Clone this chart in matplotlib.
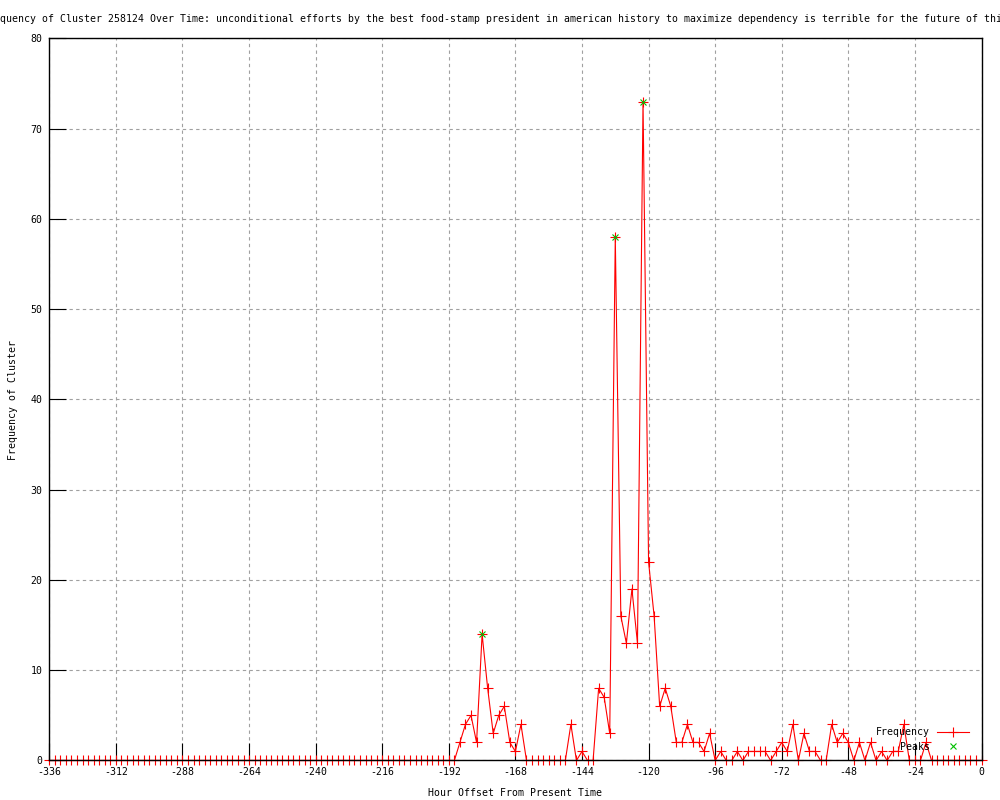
import matplotlib
matplotlib.use("Agg")
import matplotlib.pyplot as plt
import numpy as np

plt.rcParams['font.family'] = ['DejaVu Sans Mono']
plt.rcParams['axes.unicode_minus'] = False

# hour offsets, one sample every two hours
hours = list(range(-336, 1, 2))

# frequency of the cluster in each 2-hour bin
freq = [
    0, 0, 0, 0, 0, 0, 0, 0, 0, 0, 0, 0, 0, 0, 0, 0, 0, 0, 0, 0,      # -336 .. -298
    0, 0, 0, 0, 0, 0, 0, 0, 0, 0, 0, 0, 0, 0, 0, 0, 0, 0, 0, 0,      # -296 .. -258
    0, 0, 0, 0, 0, 0, 0, 0, 0, 0, 0, 0, 0, 0, 0, 0, 0, 0, 0, 0,      # -256 .. -218
    0, 0, 0, 0, 0, 0, 0, 0, 0, 0, 0, 0, 0, 0,                        # -216 .. -190
    2, 4, 5, 2, 14, 8, 3, 5, 6, 2, 1, 4,                             # -188 .. -166
    0, 0, 0, 0, 0, 0, 0, 0, 4, 0, 1, 0, 0,                           # -164 .. -140
    8, 7, 3, 58, 16, 13, 19, 13, 73, 22, 16, 6, 8, 6,                # -138 .. -112
    2, 2, 4, 2, 2, 1, 3, 0, 1, 0, 0, 1, 0, 1, 1, 1, 1, 0, 1,         # -110 .. -74
    2, 1, 4, 0, 3, 1, 1, 0, 0, 4, 2, 3, 2, 0, 2, 0, 2, 0, 1, 0,      # -72 .. -34
    1, 1, 4, 0, 0, 0, 2, 0, 0, 0, 0, 0, 0, 0, 0, 0, 0,               # -32 .. 0
]

peak_hours = [-180, -132, -122]
peak_freq = [14, 58, 73]

x_ticks = list(range(-336, 1, 24))
y_ticks = list(range(0, 81, 10))

title = ("Frequency of Cluster 258124 Over Time: unconditional efforts by the best "
         "food-stamp president in american history to maximize dependency is "
         "terrible for the future of this")

fs = 7.15

fig = plt.figure(figsize=(10, 8), dpi=100)
ax = fig.add_axes([0.0493, 0.0494, 0.9322, 0.9025])

ax.plot(hours, freq, color='#ff0000', lw=0.8, marker='+', ms=6.5, mew=0.8,
        label='Frequency', zorder=3, clip_on=False)
ax.plot(peak_hours, peak_freq, ls='none', marker='x', color='#00c000', ms=5,
        mew=0.8, label='Peaks', zorder=4, clip_on=False)

ax.set_xlim(-336, 0)
ax.set_ylim(0, 80)
ax.set_xticks(x_ticks)
ax.set_yticks(y_ticks)
ax.tick_params(direction='in', length=12, width=0.8, color='black',
               labelsize=fs, top=False, right=False)
ax.tick_params(axis='x', pad=5)
ax.tick_params(axis='y', pad=5)
ax.grid(True, color='#a0a0a0', lw=0.8, ls=(0, (3, 3)), zorder=1)
ax.set_axisbelow(True)
for sp in ax.spines.values():
    sp.set_linewidth(1.0)
    sp.set_zorder(5)

fig.text(-0.0179, 1 - 19 / 800, title, ha='left', va='center', fontsize=fs)
fig.text(0.5145, 1 - 793 / 800, "Hour Offset From Present Time", ha='center',
         va='center', fontsize=fs)
fig.text(0.013, 0.5, "Frequency of Cluster", rotation=90, ha='center',
         va='center', fontsize=fs)

leg = ax.legend(loc='lower right', bbox_to_anchor=(0.9866, 0.012),
                markerfirst=False, frameon=False, fontsize=fs, borderpad=0,
                borderaxespad=0, handlelength=3.2, handletextpad=0.7,
                labelspacing=0.45)
leg.set_zorder(6)

fig.savefig('out.png', dpi=100)
